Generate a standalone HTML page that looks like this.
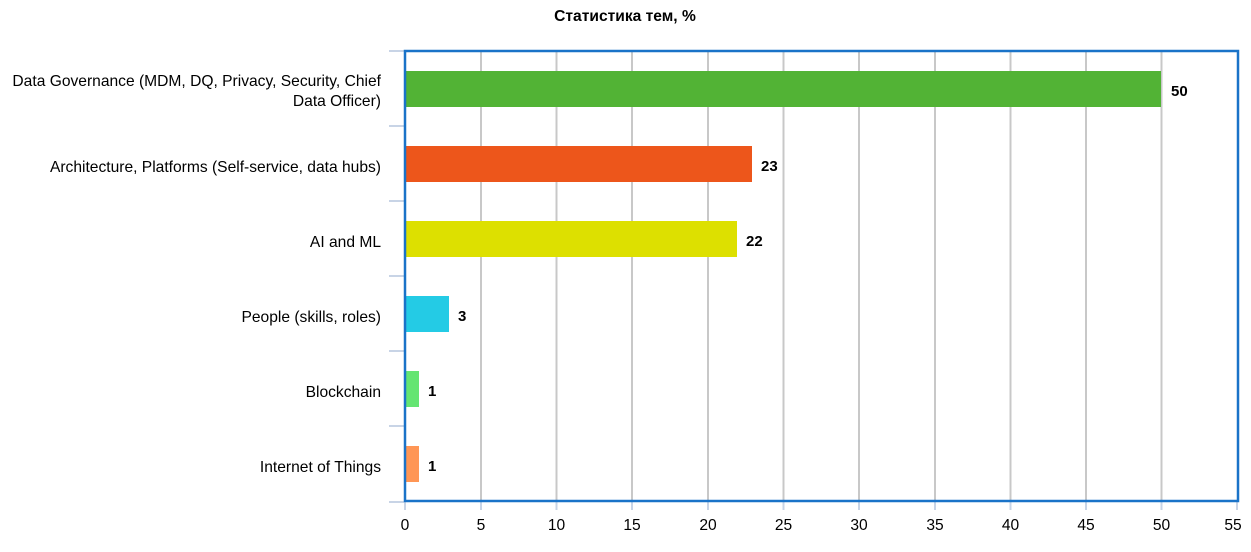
<!DOCTYPE html>
<html><head><meta charset="utf-8"><style>
html,body{margin:0;padding:0;background:#fff;}
svg{display:block;font-family:"Liberation Sans",Arial,sans-serif;}
</style></head><body>
<svg width="1251" height="552" xmlns="http://www.w3.org/2000/svg">
<text x="625" y="21" text-anchor="middle" font-size="15.6" font-weight="bold" fill="#000">Статистика тем, %</text>
<g stroke="#c8c8c8" stroke-width="2">
<line x1="481" y1="51" x2="481" y2="501"/><line x1="556.5" y1="51" x2="556.5" y2="501"/>
<line x1="632" y1="51" x2="632" y2="501"/><line x1="708" y1="51" x2="708" y2="501"/>
<line x1="783.5" y1="51" x2="783.5" y2="501"/><line x1="859" y1="51" x2="859" y2="501"/>
<line x1="935" y1="51" x2="935" y2="501"/><line x1="1010.5" y1="51" x2="1010.5" y2="501"/>
<line x1="1086" y1="51" x2="1086" y2="501"/><line x1="1161.5" y1="51" x2="1161.5" y2="501"/>
</g>
<g stroke="#c8d4e6" stroke-width="2">
<line x1="389" y1="51" x2="404" y2="51"/><line x1="389" y1="126" x2="404" y2="126"/>
<line x1="389" y1="201" x2="404" y2="201"/><line x1="389" y1="276" x2="404" y2="276"/>
<line x1="389" y1="351" x2="404" y2="351"/><line x1="389" y1="426" x2="404" y2="426"/>
<line x1="389" y1="502" x2="404" y2="502"/>
<line x1="405" y1="502" x2="405" y2="510"/><line x1="481" y1="502" x2="481" y2="510"/>
<line x1="556.5" y1="502" x2="556.5" y2="510"/><line x1="632" y1="502" x2="632" y2="510"/>
<line x1="708" y1="502" x2="708" y2="510"/><line x1="783.5" y1="502" x2="783.5" y2="510"/>
<line x1="859" y1="502" x2="859" y2="510"/><line x1="935" y1="502" x2="935" y2="510"/>
<line x1="1010.5" y1="502" x2="1010.5" y2="510"/><line x1="1086" y1="502" x2="1086" y2="510"/>
<line x1="1161.5" y1="502" x2="1161.5" y2="510"/><line x1="1237" y1="502" x2="1237" y2="510"/>
</g>
<rect x="405" y="71" width="756" height="36" fill="#52b335"/>
<rect x="405" y="146" width="347" height="36" fill="#ed561b"/>
<rect x="405" y="221" width="332" height="36" fill="#dde000"/>
<rect x="405" y="296" width="44" height="36" fill="#24cbe5"/>
<rect x="405" y="371" width="14" height="36" fill="#64e572"/>
<rect x="405" y="446" width="14" height="36" fill="#ff9655"/>
<rect x="405" y="51" width="833" height="450" fill="none" stroke="#1a73c8" stroke-width="2.5"/>
<g font-size="15" font-weight="bold" fill="#000">
<text x="1171" y="96">50</text><text x="761" y="171">23</text><text x="746" y="246">22</text>
<text x="458" y="321">3</text><text x="428" y="396">1</text><text x="428" y="471">1</text>
</g>
<g font-size="15.6" fill="#000" text-anchor="end">
<text x="381" y="86">Data Governance (MDM, DQ, Privacy, Security, Chief</text>
<text x="381" y="106">Data Officer)</text>
<text x="381" y="172">Architecture, Platforms (Self-service, data hubs)</text>
<text x="381" y="247">AI and ML</text>
<text x="381" y="322">People (skills, roles)</text>
<text x="381" y="397">Blockchain</text>
<text x="381" y="472">Internet of Things</text>
</g>
<g font-size="15.6" fill="#000" text-anchor="middle">
<text x="405" y="530">0</text><text x="481" y="530">5</text><text x="556.5" y="530">10</text>
<text x="632" y="530">15</text><text x="708" y="530">20</text><text x="783.5" y="530">25</text>
<text x="859" y="530">30</text><text x="935" y="530">35</text><text x="1010.5" y="530">40</text>
<text x="1086" y="530">45</text><text x="1161.5" y="530">50</text><text x="1233" y="530">55</text>
</g>
</svg>
</body></html>
